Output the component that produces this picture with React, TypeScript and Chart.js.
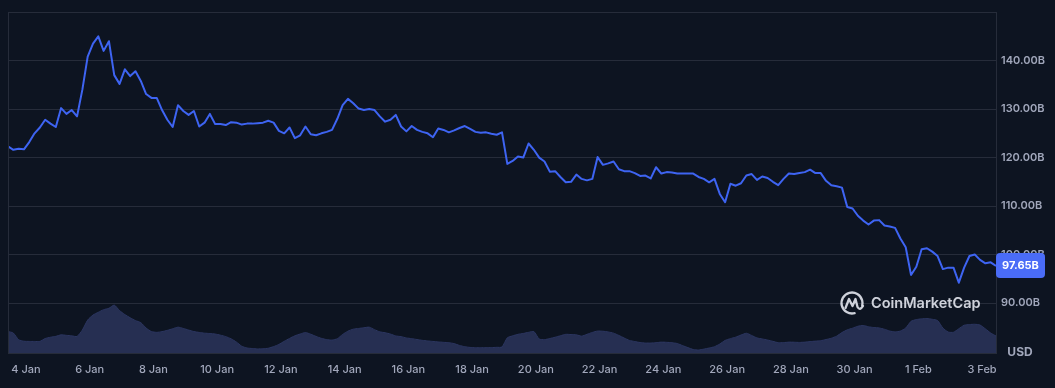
import React, { useEffect, useRef } from 'react';
import { Chart, registerables } from 'chart.js';

Chart.register(...registerables);

// ---- data ----
const dateLabels = ['4 Jan', '6 Jan', '8 Jan', '10 Jan', '12 Jan', '14 Jan', '16 Jan', '18 Jan', '20 Jan', '22 Jan', '24 Jan', '26 Jan', '28 Jan', '30 Jan', '1 Feb', '3 Feb'];
const priceTicks = [90, 100, 110, 120, 130, 140];
const lastPriceLabel = '97.65B';
const currencyLabel = 'USD';
const brandName = 'CoinMarketCap';

// market cap in billions USD, one value every 4 hours starting ~3 Jan 10:30
const priceValues = [
  122.3, 121.6, 121.8, 121.7, 123.2, 125.0, 126.2, 127.8, 127.0, 126.3,
  130.2, 129.0, 129.8, 128.5, 134.0, 140.8, 143.5, 145.0, 142.0, 144.0,
  137.0, 135.2, 138.2, 136.8, 137.8, 135.8, 133.1, 132.3, 132.3, 129.8,
  127.8, 126.3, 130.8, 129.6, 128.8, 129.6, 126.4, 127.2, 129.0, 126.9,
  126.9, 126.7, 127.3, 127.2, 126.8, 127.0,
  127.0, 127.1, 127.2, 127.6, 127.2, 125.5, 125.0, 126.2, 124.0, 124.6,
  126.4, 124.8, 124.6, 125.0, 125.3, 125.7, 128.0, 130.8, 132.1, 131.2,
  130.1, 129.8, 130.0, 129.8, 128.5, 127.4, 127.8, 128.8, 126.4, 125.4,
  126.5, 125.7, 125.3, 125.0, 124.2, 126.0, 125.7, 125.2, 125.6, 126.1,
  126.5, 125.9, 125.3, 125.1, 125.2, 124.9, 124.7, 125.2, 118.7, 119.3,
  120.2, 120.0, 122.9, 121.6, 120.0, 119.2, 117.1,
  117.2, 116.0, 114.9, 115.0, 116.5, 115.6, 115.3, 115.6, 120.1, 118.5,
  118.8, 119.2, 117.6, 117.2, 117.2, 116.8, 116.2, 116.3, 115.7, 118.0,
  116.7, 117.0, 116.9, 116.7, 116.7, 116.7, 116.7, 116.0, 115.6, 114.9,
  115.6, 112.5, 110.8, 114.6, 114.2, 114.7, 116.3, 116.6, 115.4, 116.1,
  115.8, 115.0, 114.3, 115.6, 116.7, 116.6, 116.8, 117.0, 117.5, 116.8,
  116.8, 115.2, 114.3, 114.1, 113.8,
  109.8, 109.5, 108.0, 107.0, 106.2, 107.0, 107.1, 106.0, 105.8, 105.5,
  103.3, 101.5, 95.8, 97.5, 101.1, 101.3, 100.6, 99.7, 97.0, 97.3,
  97.3, 94.2, 97.3, 99.7, 100.0, 98.9, 98.2, 98.4, 97.65,
];

// 24h volume in billions USD, same 4-hour steps
const volumeValues = [
  2.16, 2.0, 1.33, 1.18, 1.16, 1.16, 1.16, 1.45, 1.58, 1.67,
  1.82, 1.77, 1.72, 1.66, 2.3, 3.3, 3.8, 4.08, 4.34, 4.48,
  4.8, 4.25, 3.85, 3.53, 3.25, 3.04, 2.5, 2.15, 2.07, 2.14,
  2.27, 2.43, 2.59, 2.46, 2.3, 2.15, 2.06, 1.99, 1.95, 1.9,
  1.79, 1.64, 1.42, 1.1, 0.68, 0.5,
  0.45, 0.41, 0.42, 0.48, 0.64, 0.86, 1.17, 1.46, 1.72, 1.9,
  2.05, 1.88, 1.66, 1.47, 1.34, 1.29, 1.43, 1.86, 2.19, 2.39,
  2.46, 2.53, 2.59, 2.34, 2.12, 2.03, 1.9, 1.71, 1.64, 1.51,
  1.44, 1.35, 1.27, 1.21, 1.16, 1.11, 1.07, 1.03, 0.94, 0.76,
  0.63, 0.56, 0.53, 0.53, 0.53, 0.54, 0.57, 0.6, 1.52, 1.72,
  1.87, 1.96, 2.07, 2.15, 1.4, 1.34, 1.45,
  1.58, 1.73, 1.87, 1.85, 1.82, 1.69, 1.87, 2.06, 2.2, 2.18,
  2.11, 1.99, 1.76, 1.5, 1.26, 1.15, 1.05, 1.0, 1.0, 1.03,
  1.09, 1.07, 1.03, 0.95, 0.74, 0.54, 0.35, 0.3, 0.39, 0.5,
  0.63, 0.9, 1.26, 1.44, 1.59, 1.8, 1.98, 1.76, 1.51, 1.41,
  1.3, 1.17, 1.03, 1.04, 1.09, 1.08, 1.06, 1.09, 1.14, 1.19,
  1.23, 1.35, 1.48, 1.69, 2.05,
  2.32, 2.49, 2.68, 2.76, 2.63, 2.55, 2.51, 2.38, 2.2, 2.11,
  2.2, 2.5, 3.17, 3.35, 3.42, 3.45, 3.38, 3.25, 2.5, 2.1,
  2.08, 2.43, 2.78, 2.85, 2.88, 2.8, 2.42, 2.0, 1.7,
];

// time axis: hours relative to 4 Jan 00:00
const START_HOUR = -13.5;
const STEP_HOURS = 4;
const LABEL_STEP_HOURS = 48;

const BG = '#0d1421';
const GRID = '#262c3a';
const TEXT = '#a1a7bb';
const LINE = '#3e64f2';
const BOX = '#4a6cf7';
const VOL = '#262f52';
const FONT = 'Inter, "Noto Sans", sans-serif';

const overlayPlugin = {
  id: 'cmcOverlay',
  beforeDatasetsDraw(chart: any) {
    const { ctx } = chart;
    const cx = 852;
    const cy = 303;
    ctx.save();
    ctx.strokeStyle = 'rgba(222,226,234,0.92)';
    ctx.lineWidth = 2.3;
    ctx.lineCap = 'round';
    ctx.lineJoin = 'round';
    ctx.beginPath();
    ctx.arc(cx, cy, 10.5, 0.42 * Math.PI, 2.08 * Math.PI);
    ctx.stroke();
    ctx.beginPath();
    ctx.moveTo(cx - 6.5, cy + 5);
    ctx.lineTo(cx - 3, cy - 4);
    ctx.lineTo(cx + 0.5, cy + 3);
    ctx.lineTo(cx + 3.5, cy - 4);
    ctx.lineTo(cx + 5.5, cy + 4);
    ctx.quadraticCurveTo(cx + 8, cy + 8, cx + 11, cy + 3);
    ctx.stroke();
    ctx.fillStyle = 'rgba(222,226,234,0.92)';
    ctx.font = `600 14.5px ${FONT}`;
    ctx.textBaseline = 'middle';
    ctx.textAlign = 'left';
    ctx.fillText(brandName, 871, 303.5);
    ctx.restore();
  },
  afterDraw(chart: any) {
    const { ctx, chartArea, scales } = chart;
    ctx.save();
    ctx.strokeStyle = GRID;
    ctx.lineWidth = 1;
    const l = Math.round(chartArea.left) + 0.5;
    const t = Math.round(chartArea.top) + 0.5;
    const r = Math.round(chartArea.right) + 0.5;
    const b = Math.round(chartArea.bottom) + 0.5;
    ctx.strokeRect(l, t, r - l, b - t);

    const y = scales.y.getPixelForValue(priceValues[priceValues.length - 1]);
    const bx = Math.round(chartArea.right);
    const bw = 49;
    const bh = 25;
    const by = Math.round(y - bh / 2);
    ctx.fillStyle = BOX;
    ctx.beginPath();
    (ctx as any).roundRect(bx, by, bw, bh, 4);
    ctx.fill();
    ctx.fillStyle = '#ffffff';
    ctx.font = `700 11px ${FONT}`;
    ctx.textAlign = 'center';
    ctx.textBaseline = 'middle';
    ctx.fillText(lastPriceLabel, bx + bw / 2, by + bh / 2 + 0.5);

    ctx.fillStyle = TEXT;
    ctx.font = `700 12px ${FONT}`;
    ctx.fillText(currencyLabel, 1020, 352);
    ctx.restore();
  },
};

export default function App() {
  const canvasRef = useRef<HTMLCanvasElement | null>(null);

  useEffect(() => {
    const canvas = canvasRef.current;
    if (!canvas) return;
    const lineData = priceValues.map((v, i) => ({ x: START_HOUR + i * STEP_HOURS, y: v }));
    const volData = volumeValues.map((v, i) => ({ x: START_HOUR + i * STEP_HOURS, y: v }));
    const xMin = START_HOUR;
    const xMax = START_HOUR + (priceValues.length - 1) * STEP_HOURS;

    const chart = new Chart(canvas, {
      type: 'line',
      data: {
        datasets: [
          {
            type: 'line',
            data: lineData,
            borderColor: LINE,
            borderWidth: 2,
            pointRadius: 0,
            tension: 0,
            borderJoinStyle: 'round',
            yAxisID: 'y',
            order: 0,
          } as any,
          {
            type: 'line',
            data: volData,
            backgroundColor: VOL,
            borderColor: '#2c3660',
            borderWidth: 1,
            pointRadius: 0,
            tension: 0.2,
            fill: 'origin',
            yAxisID: 'yv',
            order: 1,
          } as any,
        ],
      },
      options: {
        responsive: false,
        devicePixelRatio: 1,
        animation: false,
        events: [],
        layout: { padding: { left: 8, top: 11, right: 0, bottom: 0 } },
        plugins: {
          legend: { display: false },
          tooltip: { enabled: false },
          filler: { propagate: false },
        },
        scales: {
          x: {
            type: 'linear',
            min: xMin,
            max: xMax,
            offset: false,
            grid: { display: false, drawTicks: false, offset: false },
            border: { display: false },
            afterBuildTicks: (scale: any) => {
              scale.ticks = dateLabels.map((_, i) => ({ value: i * LABEL_STEP_HOURS }));
            },
            afterFit: (scale: any) => {
              scale.height = 35;
            },
            ticks: {
              autoSkip: false,
              maxRotation: 0,
              minRotation: 0,
              padding: 10,
              color: TEXT,
              font: { family: FONT, size: 11, weight: 500 as any },
              callback: (value: any) => dateLabels[Math.round(Number(value) / LABEL_STEP_HOURS)] ?? '',
            },
          },
          y: {
            type: 'linear',
            position: 'right',
            min: 79.7,
            max: 150.1,
            grid: { color: GRID, drawTicks: false, lineWidth: 1 },
            border: { display: false },
            afterBuildTicks: (scale: any) => {
              scale.ticks = priceTicks.map((v) => ({ value: v }));
            },
            afterFit: (scale: any) => {
              scale.width = 59;
            },
            ticks: {
              padding: 5,
              color: TEXT,
              font: { family: FONT, size: 11, weight: 600 as any },
              callback: (value: any) => `${Number(value).toFixed(2)}B`,
            },
          },
          yv: {
            type: 'linear',
            display: false,
            min: 0,
            max: 34.2,
            grid: { display: false },
          },
        },
      },
      plugins: [overlayPlugin],
    });

    return () => chart.destroy();
  }, []);

  return (
    <div
      style={{
        position: 'fixed',
        left: 0,
        top: 0,
        width: 1055,
        height: 388,
        background: BG,
        overflow: 'hidden',
      }}
    >
      <canvas ref={canvasRef} width={1055} height={388} style={{ display: 'block' }} />
    </div>
  );
}
